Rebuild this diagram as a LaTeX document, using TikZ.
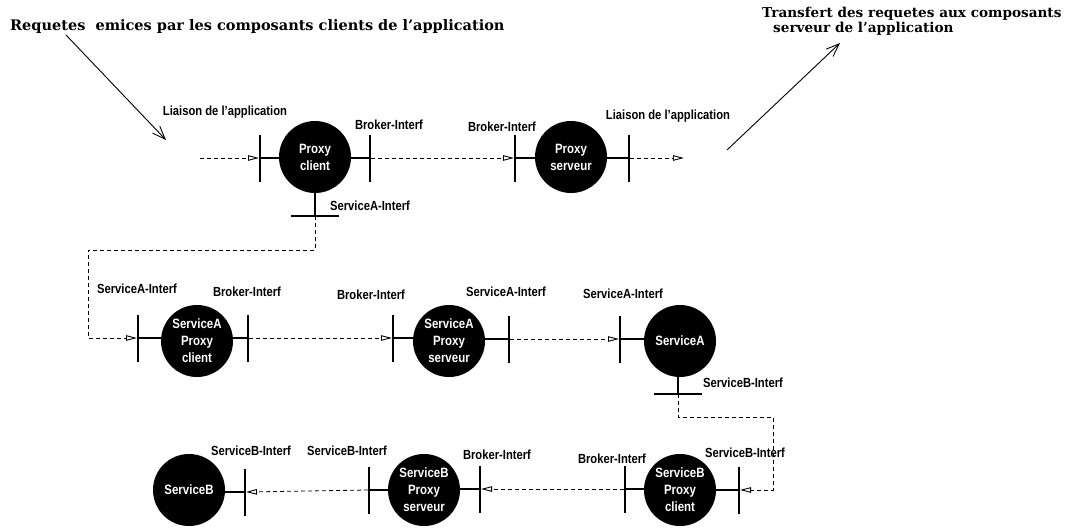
\documentclass[tikz,border=0pt]{standalone}
\usepackage{fontspec}
\usetikzlibrary{arrows.meta}
\newfontfamily\labfont[FakeStretch=0.85]{Liberation Sans}
\newfontfamily\titlefont{DejaVu Serif}

\begin{document}
\begin{tikzpicture}[x=1pt,y=-1pt,
  lab/.style={font=\labfont\bfseries\fontsize{13.2}{14}\selectfont, inner sep=0},
  ttl/.style={font=\titlefont\bfseries, inner sep=0, align=left},
  comp/.style={circle, fill=black, minimum size=72pt, inner sep=0, text=white, align=center,
    font=\labfont\bfseries\fontsize{13.5}{17}\selectfont},
  vbar/.style={fill=black, minimum width=2pt, minimum height=47pt, inner sep=0, outer sep=0},
  hbar/.style={fill=black, minimum width=48pt, minimum height=2pt, inner sep=0, outer sep=0},
  stub/.style={line width=2pt},
  flow/.style={dash pattern=on 4pt off 3pt, line width=0.8pt, -{Triangle[open,length=11pt,width=5.5pt,line width=0.9pt]}},
  note/.style={line width=0.9pt, -{Straight Barb[length=13pt,width=10pt]}},
]
\useasboundingbox (0,0) rectangle (1067,527);

% titles and the two annotation arrows
\node[ttl, anchor=west, font=\titlefont\bfseries\fontsize{14.5}{16}\selectfont] (t1) at (10,26)
  {Requetes\ \ emices par les composants clients de l’application};
\node[ttl, anchor=north west, font=\titlefont\bfseries\fontsize{13.6}{14.5}\selectfont] (t2) at (762,7)
  {Transfert des requetes aux composants\\\hspace*{11pt}serveur de l’application};
\coordinate (a1tail) at (66,35);
\coordinate (a1tip) at (166,140);
\coordinate (a2tail) at (727,150);
\coordinate (a2tip) at (840,43);
\draw[note] (a1tail) -- (a1tip);
\draw[note] (a2tail) -- (a2tip);

% first row: proxy client / proxy serveur
\node[comp] (pc) at (315,157) {Proxy\\client};
\node[vbar] (pcL) at (260,158) {};
\node[vbar] (pcR) at (370,158) {};
\node[hbar] (pcS) at (315,216) {};
\node[comp] (ps) at (571,157) {Proxy\\serveur};
\node[vbar] (psL) at (515,158) {};
\node[vbar] (psR) at (629,158) {};
\coordinate (in1) at (200,158);
\coordinate (out1) at (684,158);

\draw[stub] (pcL.center) -- (pcL.center -| pc.west);
\draw[stub] (pcR.center) -- (pcR.center -| pc.east);
\draw[stub] (pc.south) -- (pcS.center);
\draw[stub] (psL.center) -- (psL.center -| ps.west);
\draw[stub] (psR.center) -- (psR.center -| ps.east);
\draw[flow] (in1) -- (pcL.west);
\draw[flow] (pcR.east) -- (psL.west);
\draw[flow] (psR.east) -- (out1);

% second row: service A chain
\node[comp] (sapc) at (197,341) {ServiceA\\Proxy\\client};
\node[vbar] (sapcL) at (138,338) {};
\node[vbar] (sapcR) at (248,338) {};
\node[comp] (saps) at (449,341) {ServiceA\\Proxy\\serveur};
\node[vbar] (sapsL) at (393,338) {};
\node[vbar] (sapsR) at (509,339) {};
\node[comp] (sa) at (680,341) {ServiceA};
\node[vbar] (saL) at (620,339) {};
\node[hbar] (saS) at (678,394) {};
\coordinate (bend1) at (88,250);

\draw[stub] (sapcL.center) -- (sapcL.center -| sapc.west);
\draw[stub] (sapcR.center) -- (sapcR.center -| sapc.east);
\draw[stub] (sapsL.center) -- (sapsL.center -| saps.west);
\draw[stub] (sapsR.center) -- (sapsR.center -| saps.east);
\draw[stub] (saL.center) -- (saL.center -| sa.west);
\draw[stub] (saS.center) -- (saS.center |- sa.south);
\draw[flow] (pcS.center) |- (bend1) |- (sapcL.west);
\draw[flow] (sapcR.east) -- (sapsL.west);
\draw[flow] (sapsR.east) -- (saL.west);

% third row: service B chain
\node[comp] (sbpc) at (680,490) {ServiceB\\Proxy\\client};
\node[vbar] (sbpcL) at (625,489) {};
\node[vbar] (sbpcR) at (739,490) {};
\node[comp] (sbps) at (424,490) {ServiceB\\Proxy\\serveur};
\node[vbar] (sbpsL) at (369,490) {};
\node[vbar] (sbpsR) at (480,489) {};
\node[comp] (sb) at (189,490) {ServiceB};
\node[vbar] (sbR) at (245,492) {};
\coordinate (bend2) at (773,417);

\draw[stub] (sbpcL.center) -- (sbpcL.center -| sbpc.west);
\draw[stub] (sbpcR.center) -- (sbpcR.center -| sbpc.east);
\draw[stub] (sbpsL.center) -- (sbpsL.center -| sbps.west);
\draw[stub] (sbpsR.center) -- (sbpsR.center -| sbps.east);
\draw[stub] (sbR.center) -- (sbR.center -| sb.east);
\draw[flow] (saS.center) |- (bend2) |- (sbpcR.east);
\draw[flow] (sbpcL.west) -- (sbpsR.east);
\draw[flow] (sbpsL.west) -- (sbR.east);

% interface labels
\node[lab] (l1) at (225,112) {Liaison de l’application};
\node[lab] (l2) at (389,125) {Broker-Interf};
\node[lab] (l3) at (502,127) {Broker-Interf};
\node[lab] (l4) at (668,116) {Liaison de l’application};
\node[lab] (l5) at (370,206) {ServiceA-Interf};
\node[lab] (l6) at (137,289) {ServiceA-Interf};
\node[lab] (l7) at (247,292) {Broker-Interf};
\node[lab] (l8) at (371,295) {Broker-Interf};
\node[lab] (l9) at (506,292) {ServiceA-Interf};
\node[lab] (l10) at (623,294) {ServiceA-Interf};
\node[lab] (l11) at (743,383) {ServiceB-Interf};
\node[lab] (l12) at (251,451) {ServiceB-Interf};
\node[lab] (l13) at (347,451) {ServiceB-Interf};
\node[lab] (l14) at (497,455) {Broker-Interf};
\node[lab] (l15) at (612,459) {Broker-Interf};
\node[lab] (l16) at (745,453) {ServiceB-Interf};
\end{tikzpicture}
\end{document}
